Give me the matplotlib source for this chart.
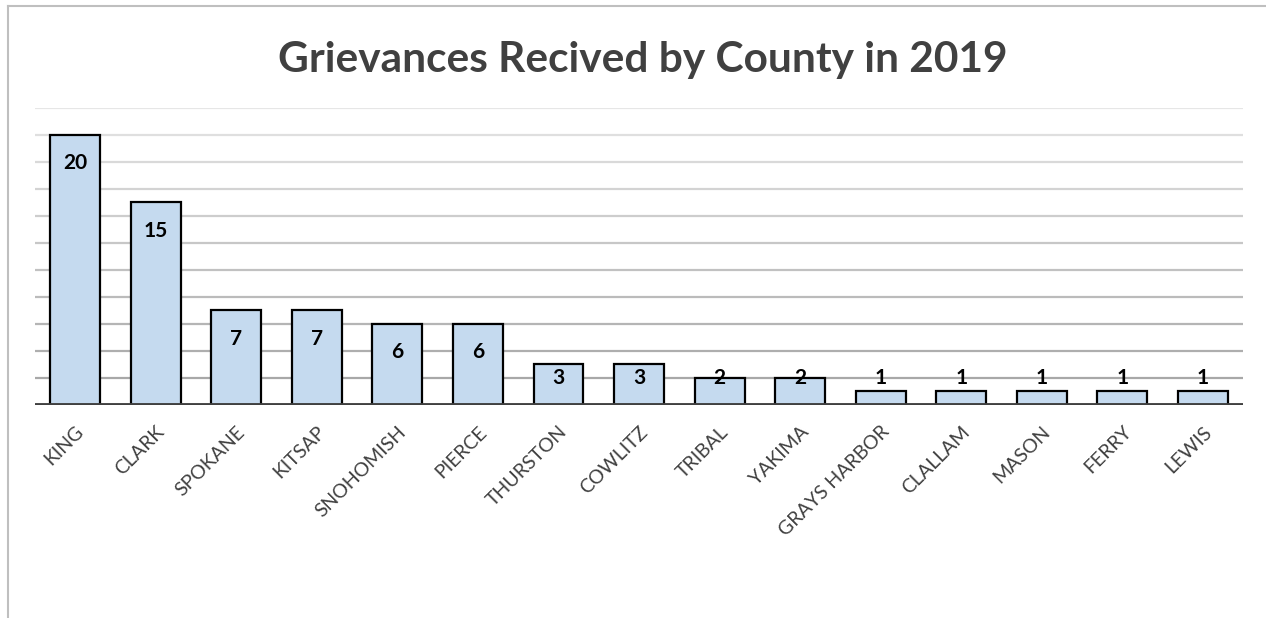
import matplotlib
matplotlib.use('Agg')
import matplotlib.pyplot as plt
import numpy as np
from matplotlib.lines import Line2D

plt.rcParams['font.family'] = ['Lato', 'DejaVu Sans']

# Data
counties = ['KING', 'CLARK', 'SPOKANE', 'KITSAP', 'SNOHOMISH', 'PIERCE',
            'THURSTON', 'COWLITZ', 'TRIBAL', 'YAKIMA', 'GRAYS HARBOR',
            'CLALLAM', 'MASON', 'FERRY', 'LEWIS']
grievances = [20, 15, 7, 7, 6, 6, 3, 3, 2, 2, 1, 1, 1, 1, 1]
title = 'Grievances Recived by County in 2019'

fig = plt.figure(figsize=(12.66, 6.18), dpi=100)
fig.patch.set_facecolor('white')
ax = fig.add_axes([0.0276, 0.3447, 0.9544, 0.4806])

x = np.arange(len(counties))
ax.bar(x, grievances, width=0.62, color='#c5daef', edgecolor='black',
       linewidth=1.6, zorder=3)

ax.set_xlim(-0.5, len(counties) - 0.5)
ax.set_ylim(0, 22)

# gridlines: lighter towards the top
levels = np.arange(2, 23, 2)
for lv in levels:
    g = 0.66 + (lv - 2) / 20 * 0.24
    ax.axhline(lv, color=(g, g, g), linewidth=1.6, zorder=1)
ax.axhline(0, color='#404040', linewidth=3.5, zorder=4)

# value labels
for xi, v in zip(x, grievances):
    ax.text(xi, max(v - 2.1, 2), str(v), ha='center', va='center',
            fontsize=15, fontweight='bold', color='black', zorder=5)

for s in ax.spines.values():
    s.set_visible(False)
ax.set_yticks([])
ax.set_xticks(x)
ax.set_xticklabels(counties, rotation=45, ha='right', rotation_mode='anchor',
                   fontsize=14, color='#404040')
ax.tick_params(axis='x', length=0, pad=13)

fig.text(0.508, 0.8835, title, ha='center', va='baseline', fontsize=30.5,
         fontweight='bold', color='#404040')

# chart border (top and left)
fig.add_artist(Line2D([0.0063, 1.0], [0.990, 0.990], transform=fig.transFigure,
                      color='#bfbfbf', linewidth=1.5))
fig.add_artist(Line2D([0.0063, 0.0063], [0.0, 0.990], transform=fig.transFigure,
                      color='#bfbfbf', linewidth=1.5))

fig.savefig('out.png', dpi=100, facecolor='white')
